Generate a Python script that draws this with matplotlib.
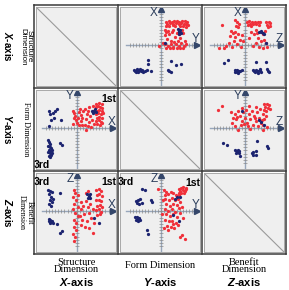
import matplotlib
matplotlib.use("Agg")
import matplotlib.pyplot as plt
from matplotlib.lines import Line2D
import numpy as np

plt.rcParams['mathtext.fontset'] = 'custom'
plt.rcParams['mathtext.it'] = 'Liberation Sans:italic:bold'

# ---------------- data (axis units, origin at the axis cross) ----------------
# Panel row1/col2 : horizontal = Y, vertical = X
p12_red = [(0.15,0.66),(0.22,0.68),(0.30,0.67),(0.38,0.69),(0.45,0.68),(0.52,0.67),(0.60,0.68),(0.68,0.69),(0.74,0.66),
           (0.18,0.60),(0.27,0.62),(0.35,0.61),(0.43,0.63),(0.50,0.60),(0.58,0.62),(0.65,0.61),(0.72,0.59),(0.14,0.54),
           (0.24,0.55),(0.33,0.56),(0.41,0.54),(0.55,0.55),(0.63,0.53),(0.70,0.52),(0.76,0.57),
           (0.10,0.42),(0.14,0.36),(0.20,0.40),(0.12,0.28),(0.22,0.30),(0.30,0.38),(0.35,0.44),(0.45,0.35),(0.52,0.30),
           (0.60,0.42),(0.62,0.33),(0.55,0.20),(0.40,0.22),(0.18,0.18),(0.28,0.12),
           (0.05,0.05),(0.12,0.02),(0.20,-0.02),(0.28,0.04),(0.35,-0.05),(0.42,0.02),(0.50,-0.03),(0.58,0.05),(0.65,-0.02),
           (0.70,0.03),(0.33,-0.10),(0.45,-0.09),(0.55,-0.10),(0.62,-0.08),(0.38,0.08),(0.48,0.10),(0.15,-0.08),(-0.05,-0.03),
           (0.25,-0.10),(0.68,0.10)]
p12_blue = [(-0.78,-0.72),(-0.74,-0.74),(-0.70,-0.71),(-0.66,-0.73),(-0.62,-0.72),(-0.58,-0.74),(-0.55,-0.71),(-0.72,-0.77),
            (-0.65,-0.77),(-0.60,-0.69),(-0.52,-0.76),(-0.45,-0.74),(-0.40,-0.72),(-0.30,-0.75),(-0.68,-0.70),
            (-0.38,-0.44),(-0.38,-0.54),(0.29,-0.46),(0.43,-0.57),(0.57,-0.53),(0.19,-0.72),(0.29,-0.76),(0.22,-0.75),
            (0.10,0.06),(0.48,0.46),(0.52,0.40),(0.56,0.35),(0.50,0.36),(0.55,0.44),(0.52,0.30)]

# Panel row1/col3 : horizontal = Z, vertical = X
p13_red = [(0.05,0.66),(0.12,0.68),(0.20,0.67),(0.28,0.66),(0.36,0.67),(0.42,0.65),(0.08,0.58),(0.15,0.60),(0.24,0.59),
           (0.32,0.60),(0.40,0.58),(0.18,0.53),(0.60,0.66),(0.68,0.67),(0.72,0.62),(0.62,0.58),(0.70,0.55),(0.65,0.50),
           (-0.28,0.70),(-0.22,0.66),(-0.18,0.60),(-0.25,0.55),(-0.20,0.52),(-0.65,0.57),
           (-0.40,0.40),(-0.35,0.33),(-0.30,0.36),(-0.42,0.25),(-0.28,0.22),(-0.20,0.30),(-0.15,0.15),(-0.10,0.28),
           (-0.05,0.10),(-0.32,0.12),(-0.45,0.05),(-0.22,0.02),(-0.12,-0.05),(-0.38,-0.05),(-0.55,-0.03),(-0.74,-0.10),
           (-0.60,-0.08),(0.18,0.38),(0.25,0.30),(0.30,0.42),(0.38,0.20),(0.45,0.10),(0.50,0.30),(0.55,0.15),(0.60,0.05),
           (0.40,-0.05),(0.30,0.05),(0.22,-0.02),(0.50,-0.08),(0.62,-0.05),(0.12,0.20),(0.35,0.35),(0.58,0.40)]
p13_blue = [(0.22,-0.72),(0.26,-0.74),(0.30,-0.71),(0.34,-0.75),(0.38,-0.73),(0.42,-0.72),(0.46,-0.76),(0.28,-0.78),
            (0.36,-0.79),(0.44,-0.70),(0.64,-0.70),(0.68,-0.76),(0.66,-0.73),(0.59,-0.48),(0.30,-0.48),
            (-0.30,-0.72),(-0.26,-0.74),(-0.22,-0.71),(-0.18,-0.75),(-0.14,-0.73),(-0.28,-0.78),(-0.20,-0.79),
            (-0.10,-0.72),(-0.24,-0.76),(-0.60,-0.52),(-0.50,-0.43),
            (0.40,0.38),(0.45,0.36),(0.50,0.34),(0.47,0.40),(0.55,0.30),(0.59,0.05)]

# Panel row2/col1 : horizontal = X, vertical = Y
p21_red = [(0.55,0.70),(0.62,0.71),(0.70,0.69),(0.54,0.60),(0.60,0.62),(0.67,0.61),(0.72,0.58),(0.56,0.50),(0.63,0.52),
           (0.70,0.48),(0.53,0.40),(0.60,0.42),(0.68,0.39),(0.73,0.43),(0.57,0.30),(0.64,0.32),(0.71,0.28),(0.55,0.20),
           (0.62,0.22),(0.69,0.18),(0.58,0.12),(0.66,0.10),(0.72,0.13),
           (-0.12,0.50),(-0.08,0.42),(-0.05,0.35),(-0.10,0.28),(-0.03,0.22),(0.02,0.30),(0.05,0.45),(0.08,0.55),
           (0.10,0.38),(0.12,0.20),(0.15,0.30),(0.18,0.48),(0.00,0.15),(-0.12,0.12),(0.05,0.08),(0.15,0.10),
           (0.22,0.55),(0.30,0.50),(0.35,0.60),(0.28,0.40),(0.38,0.35),(0.45,0.50),(0.25,0.25),(0.33,0.18),(0.42,0.22),
           (0.48,0.12),(0.30,0.05),(0.40,0.02),(0.22,0.08),(0.26,-0.05),(0.45,0.62)]
p21_blue = [(-0.81,0.48),(-0.76,0.41),(-0.69,0.43),(-0.62,0.50),(-0.57,0.54),(-0.74,0.24),(-0.67,0.29),(-0.45,0.24),
            (-0.79,0.07),(-0.84,-0.35),(-0.80,-0.40),(-0.76,-0.45),(-0.82,-0.50),(-0.78,-0.55),(-0.74,-0.58),
            (-0.80,-0.62),(-0.76,-0.66),(-0.72,-0.70),(-0.78,-0.72),(-0.74,-0.76),(-0.80,-0.80),(-0.76,-0.84),
            (-0.72,-0.62),(-0.82,-0.68),(-0.48,-0.43),(-0.43,-0.48),
            (0.42,0.50),(0.48,0.48),(0.54,0.46),(0.50,0.54),(0.46,0.42)]

# Panel row2/col3 : horizontal = Z, vertical = Y
p23_red = [(0.55,0.68),(0.62,0.70),(0.68,0.66),(0.58,0.60),(0.65,0.58),(0.70,0.55),(0.53,0.52),(0.60,0.50),
           (-0.40,0.45),(-0.35,0.30),(-0.30,0.40),(-0.38,0.15),(-0.25,0.25),(-0.20,0.50),(-0.15,0.35),(-0.10,0.20),
           (-0.05,0.45),(0.00,0.30),(0.05,0.15),(0.10,0.40),(0.15,0.25),(0.20,0.50),(0.25,0.35),(0.30,0.20),(0.35,0.45),
           (0.40,0.30),(0.45,0.15),(0.50,0.40),(0.55,0.25),(0.60,0.35),(-0.28,0.05),(-0.12,0.08),(0.08,0.05),(0.22,0.10),
           (0.38,0.05),(0.52,0.10),(-0.20,-0.05),(0.15,-0.02),(0.30,0.60),(0.12,0.62),(-0.08,0.58),(0.42,0.55),
           (0.02,0.52),(-0.22,0.32),(0.28,0.28),(0.48,0.22),(-0.02,0.12),(0.62,0.02),(0.50,-0.05),(-0.76,0.52),(-0.67,0.62)]
p23_blue = [(-0.28,-0.62),(-0.24,-0.65),(-0.20,-0.62),(-0.16,-0.66),(-0.26,-0.70),(-0.18,-0.71),(-0.22,-0.68),
            (-0.14,-0.81),(0.30,-0.66),(0.24,-0.68),(0.20,-0.72),(0.24,-0.76),(0.30,-0.77),(0.62,-0.52),(0.66,-0.57),
            (-0.62,-0.43),(-0.52,-0.48),(0.33,-0.38),(-0.10,0.48),(0.40,0.22),(0.45,0.18),(0.55,0.08)]

# Panel row3/col1 : horizontal = X, vertical = Z
p31_red = [(0.55,0.60),(0.62,0.62),(0.68,0.58),(0.57,0.45),(0.64,0.48),(0.70,0.42),(0.55,0.30),(0.62,0.32),(0.69,0.28),
           (0.57,0.15),(0.65,0.18),(0.71,0.12),(0.55,0.02),(0.62,0.05),(0.68,-0.02),(0.58,-0.12),(0.66,-0.10),
           (-0.10,0.60),(-0.05,0.50),(-0.12,0.40),(-0.02,0.30),(-0.08,0.20),(0.02,0.12),(-0.12,0.05),(-0.05,-0.05),
           (0.03,-0.15),(-0.08,-0.25),(-0.02,-0.35),(-0.10,-0.45),(-0.04,-0.55),(-0.12,-0.65),(-0.06,-0.75),
           (-0.10,-0.85),(0.04,0.45),(0.10,0.25),(0.18,0.15),(0.25,0.28),(0.12,0.05),(0.30,0.10),(0.38,0.20),
           (0.45,0.05),(0.20,-0.10),(0.35,-0.05),(0.15,-0.25),(0.28,-0.30),(0.40,-0.20),(0.48,-0.35),(0.22,-0.45),
           (0.35,-0.50),(0.12,-0.40),(0.45,-0.62),(0.08,-0.15),(0.25,0.50),(0.30,0.58)]
p31_blue = [(-0.84,0.60),(-0.78,0.58),(-0.72,0.55),(-0.80,0.48),(-0.75,0.40),(-0.70,0.35),(-0.78,0.30),(-0.72,0.25),
            (-0.80,0.20),(-0.75,0.15),(-0.48,0.52),(-0.81,-0.24),(-0.76,-0.26),(-0.71,-0.28),(-0.79,-0.30),
            (-0.74,-0.32),(-0.70,-0.33),(-0.77,-0.35),(-0.57,-0.38),(-0.43,-0.57),(-0.48,-0.62),(0.48,-0.19),
            (0.62,-0.33),(0.28,0.48),(0.33,0.43),(0.38,0.38),(0.36,0.48),(0.30,0.38)]

# Panel row3/col2 : horizontal = Y, vertical = Z
p32_red = [(0.52,0.62),(0.58,0.66),(0.64,0.68),(0.70,0.67),(0.55,0.56),(0.62,0.60),(0.68,0.58),(0.72,0.62),(0.50,0.50),
           (0.58,0.52),(0.65,0.50),(0.52,0.45),(0.08,0.60),(0.15,0.55),(0.10,0.45),(0.20,0.48),(0.28,0.55),(0.35,0.50),
           (0.42,0.45),(0.12,0.35),(0.22,0.32),(0.30,0.38),(0.40,0.30),(0.48,0.35),(0.15,0.20),(0.25,0.15),(0.35,0.20),
           (0.45,0.18),(0.55,0.25),(0.10,0.05),(0.20,0.00),(0.30,0.05),(0.40,-0.02),(0.50,0.08),(0.60,0.10),
           (0.15,-0.10),(0.25,-0.15),(0.35,-0.10),(0.45,-0.18),(0.55,-0.05),(0.12,-0.25),(0.22,-0.30),(0.32,-0.28),
           (0.42,-0.35),(0.18,-0.42),(0.28,-0.45),(0.38,-0.50),(0.48,-0.40),(0.08,-0.50),(0.20,-0.55),(0.35,-0.38),
           (0.62,-0.20),(0.05,0.30),(0.03,-0.08),(0.54,-0.74),(0.69,-0.79),(0.60,-0.70),(-0.08,0.64)]
p32_blue = [(-0.55,0.64),(-0.45,0.60),(-0.60,0.35),(-0.66,0.30),(-0.68,0.24),(-0.63,0.20),(-0.55,0.22),(-0.72,0.28),
            (-0.30,0.30),(-0.26,0.25),(-0.74,-0.17),(-0.68,-0.18),(-0.62,-0.20),(-0.66,-0.24),(-0.72,-0.27),
            (-0.60,-0.27),(-0.65,-0.30),(-0.40,-0.55),(-0.36,-0.65),(0.45,0.40),(0.40,0.35),(0.35,-0.12),
            (0.50,-0.28),(0.55,0.40)]

dims = ["Structure\nDimension", "Form Dimension", "Benefit\nDimension"]
axis_names = ["X", "Y", "Z"]

panels = {(0, 1): (p12_red, p12_blue), (0, 2): (p13_red, p13_blue),
          (1, 0): (p21_red, p21_blue), (1, 2): (p23_red, p23_blue),
          (2, 0): (p31_red, p31_blue), (2, 1): (p32_red, p32_blue)}
quadrant_labels = {(1, 0): [("1st", 0.92, 0.84), ("3rd", -1.0, -1.05)],
                   (2, 0): [("3rd", -1.0, 0.84), ("1st", 0.92, 0.84)],
                   (2, 1): [("3rd", -1.0, 0.84), ("1st", 0.92, 0.80)]}

# ---------------- layout ----------------
W, H = 289, 290
fig = plt.figure(figsize=(W / 100, H / 100), dpi=100)
xs = [34, 118, 202, 286]
ys = [5, 88, 171, 254]
UNIT = 35.0
RED = "#f0303a"
BLUE = "#1c2470"
AXC = "#97a6bb"
ARC = "#34466a"
inset = 2

def fx(px):
    return px / W

def fy(py):
    return 1 - py / H

for r in range(3):
    for c in range(3):
        x0, x1 = xs[c] + inset, xs[c + 1] - inset
        y0, y1 = ys[r] + inset, ys[r + 1] - inset
        ax = fig.add_axes([fx(x0), fy(y1), (x1 - x0) / W, (y1 - y0) / H])
        ax.set_facecolor("#efefef")
        for s in ax.spines.values():
            s.set_color("#a8a8a8")
            s.set_linewidth(0.7)
        ax.set_xticks([])
        ax.set_yticks([])
        ox = xs[c] + 43 - x0
        oy = ys[r] + 40 - y0
        ax.set_xlim(-ox / UNIT, (x1 - x0 - ox) / UNIT)
        ax.set_ylim(-(y1 - y0 - oy) / UNIT, oy / UNIT)
        if r == c:
            ax.plot([0, 1], [1, 0], transform=ax.transAxes, color="#9a9a9a", lw=0.8)
            continue
        ymin = ax.get_ylim()[0]
        # axis cross
        ax.plot([-1.0, 1.02], [0, 0], color=AXC, lw=1.0, zorder=1)
        ax.plot([0, 0], [ymin, 1.0], color=AXC, lw=1.0, zorder=1)
        tx = np.arange(-0.9, 0.95, 0.09)
        ax.plot(tx, np.zeros_like(tx), linestyle="none", marker="|", ms=2.6, mew=0.5, color="#8a8a8a", zorder=1)
        ty = np.arange(-1.0, 0.95, 0.09)
        ax.plot(np.zeros_like(ty), ty, linestyle="none", marker="_", ms=2.6, mew=0.5, color="#8a8a8a", zorder=1)
        ax.plot([1.04], [0], marker=">", ms=4, color=ARC, zorder=2)
        ax.plot([0], [1.02], marker="^", ms=4, color=ARC, zorder=2)
        ax.text(-0.2, 0.92, axis_names[r], ha="center", va="center", fontsize=8.5, color="#2c3e5c",
                family="Liberation Sans")
        ax.text(0.98, 0.17, axis_names[c], ha="center", va="center", fontsize=8.5, color="#2c3e5c",
                family="Liberation Sans")
        red, blue = panels[(r, c)]
        rx, ry = zip(*red)
        bx, by = zip(*blue)
        ax.scatter(rx, ry, s=5.5, color=RED, linewidths=0, zorder=3)
        ax.scatter(bx, by, s=5.5, color=BLUE, linewidths=0, zorder=4)
        for lab, lx, ly in quadrant_labels.get((r, c), []):
            ax.text(lx, ly, lab, ha="center", va="center", fontsize=7.5, fontweight="bold",
                    family="Liberation Sans", color="black", zorder=5)

# frame lines
for x in xs:
    fig.add_artist(Line2D([fx(x), fx(x)], [fy(ys[0]), fy(ys[-1])], color="#3a3a3a", lw=1.1))
for y in ys:
    fig.add_artist(Line2D([fx(xs[0]), fx(xs[-1])], [fy(y), fy(y)], color="#3a3a3a", lw=1.1))

# left labels
row_fams = ["Liberation Sans", "Liberation Serif", "Liberation Serif"]
for r in range(3):
    cy = (ys[r] + ys[r + 1]) / 2
    fig.text(fx(26), fy(cy), dims[r], rotation=270, ha="center", va="center", fontsize=5.8,
             family=row_fams[r], linespacing=0.95)
    fig.text(fx(8), fy(cy), "$%s$-axis" % axis_names[r], rotation=270, ha="center", va="center",
             fontsize=7, fontweight="bold", family="Liberation Sans")

# bottom labels
for c in range(3):
    cx = (xs[c] + xs[c + 1]) / 2
    fig.text(fx(cx), fy(266), dims[c], ha="center", va="center", fontsize=7.5,
             family="Liberation Serif", linespacing=0.85)
    fig.text(fx(cx), fy(282), "$%s$-axis" % axis_names[c], ha="center", va="center",
             fontsize=8, fontweight="bold", family="Liberation Sans")

fig.savefig("out.png", dpi=100, facecolor="white")
